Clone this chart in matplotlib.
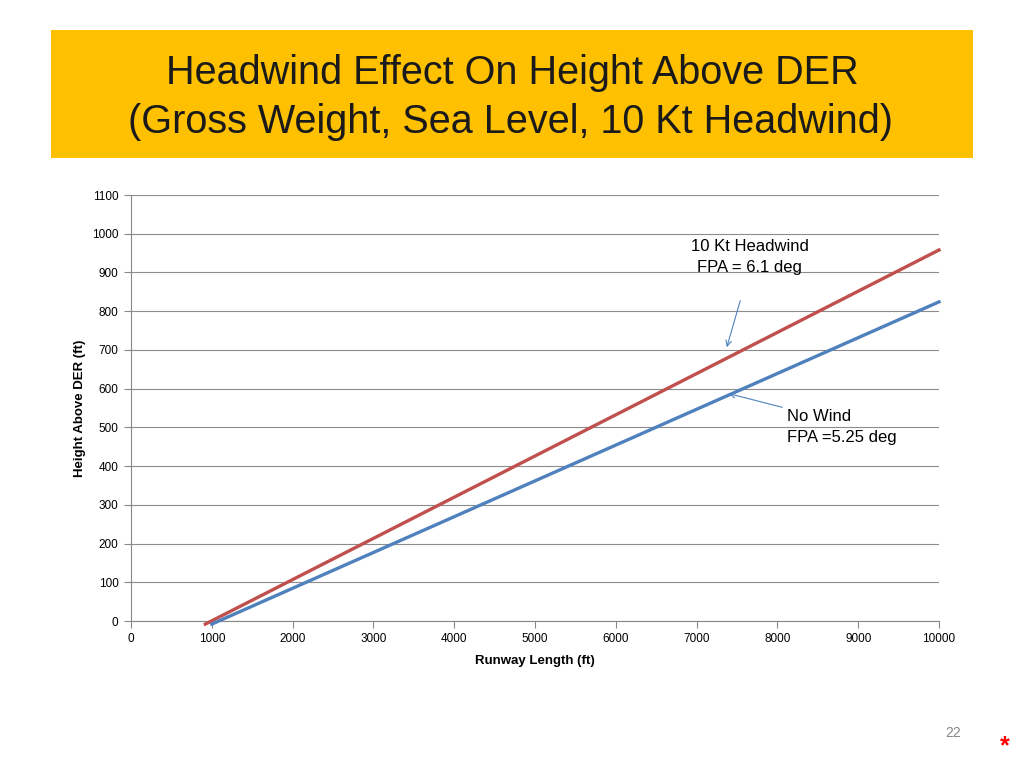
import matplotlib.pyplot as plt
from matplotlib.patches import Rectangle

# Data
runway_red = [920, 10000]
height_red = [-8, 958]
runway_blue = [1000, 10000]
height_blue = [-8, 824]

x_ticks = [0, 1000, 2000, 3000, 4000, 5000, 6000, 7000, 8000, 9000, 10000]
y_ticks = [0, 100, 200, 300, 400, 500, 600, 700, 800, 900, 1000, 1100]

plt.rcParams['font.family'] = ['Liberation Sans', 'DejaVu Sans']

fig = plt.figure(figsize=(10.24, 7.68), dpi=100)

# Title banner
fig.patches.append(Rectangle((51 / 1024, 1 - 158 / 768), 922 / 1024, 128 / 768,
                             transform=fig.transFigure, facecolor='#FFC000',
                             edgecolor='none', zorder=0))
fig.text(512 / 1024, 1 - 73 / 768, "Headwind Effect On Height Above DER", ha='center', va='center',
         fontsize=28.5, color='#1a1a1a')
fig.text(510 / 1024, 1 - 122 / 768, "(Gross Weight, Sea Level, 10 Kt Headwind)", ha='center', va='center',
         fontsize=28.5, color='#1a1a1a')

ax = fig.add_axes([131 / 1024, 1 - 621 / 768, 808 / 1024, 426 / 768])
ax.plot(runway_red, height_red, color='#C0504D', lw=2.4, clip_on=False, zorder=3)
ax.plot(runway_blue, height_blue, color='#4F81BD', lw=2.4, clip_on=False, zorder=3)

ax.set_xlim(0, 10000)
ax.set_ylim(0, 1100)
ax.set_xticks(x_ticks)
ax.set_yticks(y_ticks)
ax.tick_params(labelsize=8.5, colors='#888888', labelcolor='black', length=5, width=0.8)
ax.tick_params(axis='y', pad=4)
ax.grid(axis='y', color='#8c8c8c', lw=0.8)
ax.set_axisbelow(True)
for s in ['top', 'right']:
    ax.spines[s].set_visible(False)
for s in ['left', 'bottom']:
    ax.spines[s].set_color('#888888')
ax.set_xlabel("Runway Length (ft)", fontsize=9.5, fontweight='bold', labelpad=7)
ax.set_ylabel("Height Above DER (ft)", fontsize=9.5, fontweight='bold', labelpad=4)

# Annotations
ax.text(6931, 968, "10 Kt Headwind", fontsize=12, va='center', ha='left')
ax.text(7005, 914, "FPA = 6.1 deg", fontsize=12, va='center', ha='left')
ax.annotate("", xy=(7364, 700), xytext=(7550, 834),
            arrowprops=dict(arrowstyle='->', color='#4F81BD', lw=0.8))
ax.text(8119, 527, "No Wind", fontsize=12, va='center', ha='left')
ax.text(8119, 475, "FPA =5.25 deg", fontsize=12, va='center', ha='left')
ax.annotate("", xy=(7364, 589), xytext=(8094, 550),
            arrowprops=dict(arrowstyle='->', color='#4F81BD', lw=0.8))

# Slide footer
fig.text(953 / 1024, 1 - 733 / 768, "22", fontsize=10, color='#888888', ha='center', va='center')
fig.text(1005 / 1024, 1 - 746 / 768, "*", fontsize=18, color='red', fontweight='bold',
         ha='center', va='center')

plt.savefig('out.png', dpi=100)
